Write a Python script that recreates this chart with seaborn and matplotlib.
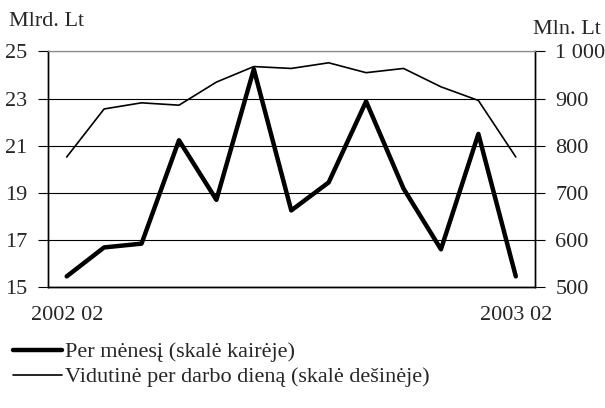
import numpy as np
import matplotlib
matplotlib.use("Agg")
from matplotlib import pyplot as plt
from matplotlib.ticker import FixedLocator, FuncFormatter
import seaborn as sns

# Данные: месяцы 2002 02 ... 2003 02
months = ["2002 02", "2002 03", "2002 04", "2002 05", "2002 06", "2002 07", "2002 08",
          "2002 09", "2002 10", "2002 11", "2002 12", "2003 01", "2003 02"]
# Per mėnesį, mlrd. Lt (kairė skalė)
per_month = [15.45, 16.68, 16.84, 21.23, 18.70, 24.25, 18.25, 19.44, 22.88, 19.18, 16.60, 21.50, 15.45]
# Vidutinė per darbo dieną, mln. Lt (dešinė skalė)
per_day = [776, 878, 891, 886, 935, 968, 964, 976, 955, 964, 925, 896, 776]

label_month = "Per mėnesį (skalė kairėje)"
label_day = "Vidutinė per darbo dieną (skalė dešinėje)"

sns.set_style("white")
plt.rcParams['font.family'] = ['Liberation Serif', 'DejaVu Serif']
plt.rcParams['font.size'] = 16

fig, ax = plt.subplots(figsize=(6.05, 4.08), dpi=100)
fig.subplots_adjust(left=0.0793, right=0.8835, top=0.8738, bottom=0.2966)
ax2 = ax.twinx()

x = np.arange(len(months))
sns.lineplot(x=x, y=per_month, ax=ax, color="black", lw=3.2, label=label_month, legend=False)
sns.lineplot(x=x, y=per_day, ax=ax2, color="black", lw=1.2, label=label_day, legend=False)

# Оси
ax.set_xlim(-0.5, len(months) - 0.5)
ax.set_ylim(15, 25)
ax2.set_ylim(500, 1000)
ax.set_yticks([15, 17, 19, 21, 23, 25])
ax2.set_yticks([500, 600, 700, 800, 900, 1000])
ax2.yaxis.set_major_formatter(FuncFormatter(lambda v, p: f"{int(v):,}".replace(",", " ")))

ax.set_xticks([0, len(months) - 1])
ax.set_xticklabels([months[0], months[-1]])
ax.xaxis.set_minor_locator(FixedLocator(np.arange(0.5, len(months) - 1, 1.0)))
ax.tick_params(axis="x", which="major", length=0, pad=14)
ax.tick_params(axis="x", which="minor", direction="in", length=5, width=0.8, color="black")
ax.tick_params(axis="y", which="major", direction="out", length=7, width=0.8, color="black", pad=8, left=True)
ax2.tick_params(axis="y", which="major", direction="out", length=7, width=0.8, color="black", pad=8, right=True)

# Сетка
ax.yaxis.grid(True, color="black", lw=0.8)
ax.set_axisbelow(True)
for a in (ax, ax2):
    for s in ("left", "right", "bottom"):
        a.spines[s].set_color("black")
        a.spines[s].set_linewidth(1.0)
    a.spines["top"].set_color("#888888")
    a.set_xlabel("")
    a.set_ylabel("")

fig.text(9 / 605, 1 - 22 / 408, "Mlrd. Lt", ha="left", va="center", fontsize=16)
fig.text(601 / 605, 1 - 29 / 408, "Mln. Lt", ha="right", va="center", fontsize=16)

# Легенда
h1, l1 = ax.get_legend_handles_labels()
h2, l2 = ax2.get_legend_handles_labels()
fig.legend(h1 + h2, l1 + l2, loc="upper left", bbox_to_anchor=(4 / 605, 1 - 333 / 408),
           frameon=False, handlelength=2.2, handletextpad=0.15, labelspacing=0.2,
           borderaxespad=0, fontsize=16)

plt.savefig("out.png", dpi=100)
